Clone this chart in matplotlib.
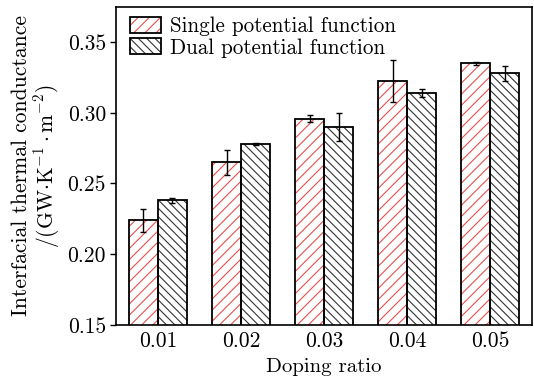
import matplotlib
matplotlib.use('Agg')
import matplotlib.pyplot as plt
import numpy as np
from matplotlib.legend_handler import HandlerTuple

plt.rcParams['font.family'] = ['cmr10', 'DejaVu Serif']
plt.rcParams['mathtext.fontset'] = 'cm'
plt.rcParams['axes.formatter.use_mathtext'] = True
plt.rcParams['hatch.linewidth'] = 0.8

# data
doping = ['0.01', '0.02', '0.03', '0.04', '0.05']
single = [0.224, 0.265, 0.296, 0.3225, 0.335]
single_err = [0.008, 0.009, 0.0025, 0.015, 0.001]
dual = [0.238, 0.278, 0.290, 0.314, 0.328]
dual_err = [0.002, 0.0005, 0.010, 0.003, 0.0055]

x = np.arange(len(doping))
w = 0.35

fig, ax = plt.subplots(figsize=(5.34, 3.83), dpi=100)
fig.subplots_adjust(left=0.218, right=0.996, top=0.982, bottom=0.152)

# hatch layer (coloured) then black outline on top
h1 = ax.bar(x - w/2, single, w, facecolor='white', edgecolor='#e8504f',
            hatch='///', linewidth=0)
h2 = ax.bar(x + w/2, dual, w, facecolor='white', edgecolor='#333333',
            hatch='\\' * 4, linewidth=0)
o1 = ax.bar(x - w/2, single, w, facecolor='none', edgecolor='black',
            linewidth=1.3, yerr=single_err, capsize=2.5,
            error_kw=dict(elinewidth=1, capthick=1, ecolor='black'))
o2 = ax.bar(x + w/2, dual, w, facecolor='none', edgecolor='black',
            linewidth=1.3, yerr=dual_err, capsize=2.5,
            error_kw=dict(elinewidth=1, capthick=1, ecolor='black'))

ax.set_xlim(-0.5, 4.5)
ax.set_ylim(0.15, 0.375)
ax.set_yticks([0.15, 0.20, 0.25, 0.30, 0.35])
ax.set_yticklabels(['0.15', '0.20', '0.25', '0.30', '0.35'])
ax.set_xticks(x)
ax.set_xticklabels(doping)
ax.tick_params(axis='x', length=0, pad=5, labelsize=15.5)
ax.tick_params(axis='y', length=4, width=1, labelsize=15.5)
for s in ax.spines.values():
    s.set_linewidth(1.2)

ax.set_xlabel('Doping ratio', fontsize=15, labelpad=5)
ax.set_ylabel('Interfacial thermal conductance\n/(GW$\\cdot$K$^{-1}\\cdot$m$^{-2}$)',
              fontsize=15.5, labelpad=4, linespacing=1.05)

leg = ax.legend([(h1[0], o1[0]), (h2[0], o2[0])],
                ['Single potential function', 'Dual potential function'],
                handler_map={tuple: HandlerTuple(ndivide=1)},
                loc='upper left', bbox_to_anchor=(0.01, 1.0),
                frameon=False, fontsize=15.2,
                handlelength=1.48, handleheight=0.8,
                borderaxespad=0.05, labelspacing=0.1, handletextpad=0.4)

fig.savefig('out.png', dpi=100)
plt.close()
